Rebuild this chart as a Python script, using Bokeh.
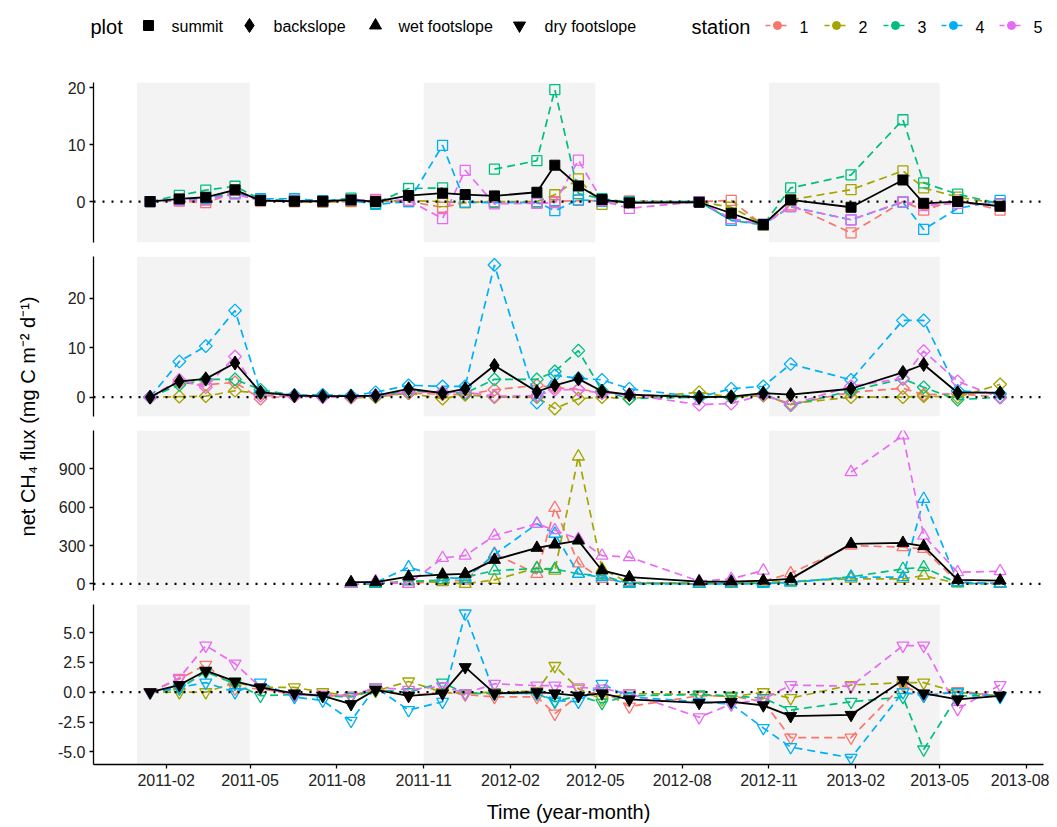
import numpy as np
import pandas as pd
from bokeh.plotting import figure
from bokeh.layouts import column, row
from bokeh.models import (Range1d, BoxAnnotation, Span, FixedTicker, DatetimeTickFormatter,
                          NumeralTickFormatter, Label, ColumnDataSource)
from bokeh.embed import file_html
from bokeh.resources import INLINE
from bokeh.core.properties import value

nan = float("nan")
FONT = "Liberation Sans"

# ---------------- data ----------------
dates = ["2011-01-15", "2011-02-15", "2011-03-15", "2011-04-15", "2011-05-12", "2011-06-17",
         "2011-07-17", "2011-08-16", "2011-09-11", "2011-10-16", "2011-11-21", "2011-12-15",
         "2012-01-15", "2012-02-29", "2012-03-19", "2012-04-13", "2012-05-08", "2012-06-06",
         "2012-08-19", "2012-09-22", "2012-10-26", "2012-11-24", "2013-01-27", "2013-03-23",
         "2013-04-14", "2013-05-20", "2013-07-04"]

stations = ["1", "2", "3", "4", "5"]
station_colors = ["#F8766D", "#A3A500", "#00BF7D", "#00B0F6", "#E76BF3"]
plots = ["summit", "backslope", "wet footslope", "dry footslope"]

winter_start = ["2011-01-01", "2011-11-01", "2012-11-01"]
winter_end = ["2011-05-01", "2012-05-01", "2013-05-01"]

x_tick_labels = ["2011-02", "2011-05", "2011-08", "2011-11", "2012-02", "2012-05",
                 "2012-08", "2012-11", "2013-02", "2013-05", "2013-08"]

# summit
summit_mean = [0, 0.47, 0.76, 2.06, 0.18, 0.06, 0.06, 0.29, 0, 1.06, 1.47, 1.23, 1.0, 1.64, 6.4, 2.75,
               0.35, -0.23, -0.12, -2.05, -4.05, 0.29, -1.0, 3.8, -0.3, 0, -0.82]
summit_s1 = [0, 0.1, -0.2, 1.5, 0.1, 0, 0, 0, 0.1, 0, -1.0, -0.2, 0, -0.3, 0, 0.2,
             0.1, 0.1, 0, 0.2, -4.2, -0.6, -5.5, 0, -1.5, 0.3, -1.5]
summit_s2 = [0, 0.2, 0.3, 2.0, 0.2, 0, -0.1, 0.1, 0, 0.2, 0, -0.2, 0, 0, 1.2, 4.0,
             -0.5, 0, 0, -1.0, -4.0, 0.3, 2.1, 5.4, 2.4, 0.8, -0.4]
summit_s3 = [0, 1.1, 2.0, 2.7, 0.4, 0.2, 0.1, 0.6, -0.3, 2.3, 2.4, nan, 5.7, 7.2, 19.7, 1.4,
             0.5, -0.1, 0, -3.3, -4.1, 2.4, 4.7, 14.4, 3.3, 1.3, -0.4]
summit_s4 = [0, 0.3, 0.5, 1.5, 0.5, 0.5, 0.1, 0.2, -0.5, 0, 9.9, -0.1, -0.2, -0.1, -1.6, 0.3,
             0.1, -0.1, 0, -3.3, -4.0, -0.9, -3.2, -0.1, -4.9, -1.2, 0.2]
summit_s5 = [0, 0.2, 0.3, 1.3, 0.2, 0.1, 0, 0.2, 0.4, 0.2, -3.0, 5.5, -0.4, -0.3, -0.2, 7.3,
             0.2, -1.2, 0, -3.0, -4.0, -0.9, -3.2, 0, -0.7, -0.3, -0.5]

# backslope
backslope_mean = [0, 3.2, 3.7, 6.9, 1.0, 0.3, 0.2, 0.2, 0.3, 1.7, 0.8, 1.7, 6.4, 1.1, 2.4, 3.7,
                  1.2, 0.5, 0, 0.1, 0.8, 0.5, 1.7, 5.0, 6.6, 0.9, 0.9]
backslope_s1 = [0, 3.0, 2.5, 3.0, -0.3, 0.3, 0.2, 0.2, 0.2, 0.8, 0.6, 0.5, 1.5, 2.4, 1.9, 1.6,
                1.0, 0.5, 0, 0, 0.5, -1.5, 1.0, 1.8, 0.5, 0.7, 0]
backslope_s2 = [0, 0.1, 0.2, 1.3, 0.8, 0.2, 0.2, -0.1, 0, 0.8, -0.3, 0.5, 0, 0, -2.3, -0.3,
                0, -0.3, 1.0, 0, 0.3, -1.3, 0, 0, 0.2, 0, 2.6]
backslope_s3 = [0, 2.5, 3.6, 3.6, 1.5, 0.4, 0.3, 0.2, 0.2, 1.2, 1.0, 0.8, 3.6, 3.6, 5.2, 9.4,
                1.3, -0.3, 0, 0, 0.7, -1.6, 1.3, 3.7, 2.0, -0.5, 0]
backslope_s4 = [0, 7.2, 10.3, 17.5, 1.0, 0.4, 0.5, 0.3, 1.0, 2.4, 2.2, 2.2, 26.7, -1.1, 4.4, 3.8,
                3.5, 1.7, 0, 1.7, 2.2, 6.7, 3.5, 15.5, 15.5, 1.3, 0.7]
backslope_s5 = [0, 3.5, 2.0, 8.2, 0.3, 0.2, 0, 0, 0.3, 1.0, 1.0, 1.0, 0.2, 0.3, 1.5, 1.5,
                0.8, 0.5, -1.5, -1.3, 0.5, -1.5, 2.2, 3.8, 9.3, 3.2, -0.1]

# wet footslope
wet_mean = [nan] * 7 + [13, 13, 57, 73, 78, 188, 282, 308, 339, 105, 52, 18, 18, 26, 39,
                        313, 321, 295, 31, 26]
wet_s1 = [nan] * 7 + [0, 10, 0, 26, 26, 235, 78, 595, 160, 39, 13, 0, 5, 20, 83,
                      300, 287, 274, 13, 5]
wet_s2 = [nan] * 7 + [0, 0, 21, 13, 0, 31, 125, 104, 997, 117, 5, 10, 5, 10, 20,
                      40, 39, 65, 3, 0]
wet_s3 = [nan] * 7 + [0, 0, 20, 30, 52, 104, 120, 117, 78, 65, 5, 0, 0, 5, 10,
                      55, 117, 130, 5, 0]
wet_s4 = [nan] * 7 + [0, 10, 130, 52, 39, 230, 470, 392, 78, 52, 0, 0, 0, 0, 13,
                      52, 52, 665, 13, 0]
wet_s5 = [nan] * 7 + [0, 20, 0, 203, 221, 378, 470, 420, 352, 221, 209, 21, 39, 104, nan,
                      875, 1162, 378, 91, 99]

# dry footslope
dry_mean = [0, 0.6, 1.8, 0.9, 0.4, -0.1, -0.3, -1.0, 0.2, -0.3, -0.1, 2.1, -0.1, 0, -0.1, -0.3,
            -0.1, -0.6, -0.9, -0.8, -1.1, -2.0, -1.9, 1.0, -0.1, -0.6, -0.3]
dry_s1 = [0, 1.1, 2.3, 0.3, 0.3, -0.2, -0.3, -0.3, 0.3, -0.3, 0, -0.2, -0.4, -0.4, -1.8, -0.3,
          0.1, -1.2, -0.3, -0.3, -0.8, -3.8, -3.8, 0.6, -0.3, 0.1, -0.3]
dry_s2 = [0, 0, 0, 0.8, 0.4, 0.4, 0, -0.3, 0.1, 0.9, 0, -0.1, 0, 0.1, 2.2, 0.3,
          -0.6, -0.1, -0.2, -0.4, 0, -0.5, 0.6, 0.8, 0.8, 0, -0.3]
dry_s3 = [0, 0.3, 1.7, 0.7, -0.3, -0.2, -0.3, -0.4, 0.2, 0, 0.8, -0.1, -0.1, -0.1, -0.8, -0.3,
          -0.9, -0.3, -0.2, -0.3, -0.5, -1.5, -0.8, -0.4, -4.8, -0.3, -0.3]
dry_s4 = [0, 0.4, 0.8, 0, 0.8, -0.4, -0.7, -2.4, 0.4, -1.5, -0.8, 6.6, -0.1, -0.1, -0.7, -0.8,
          0.7, -0.4, -0.8, -1.0, -3.0, -4.6, -5.5, 0, -0.3, 0, -0.4]
dry_s5 = [0, 1.2, 3.9, 2.4, 0.4, -0.2, -0.2, -0.3, 0.4, 0.2, 0.5, -0.1, 0.7, 0.55, 0.55, 0.4,
          0.3, -0.1, -2.1, -1.0, -0.6, 0.6, 0.5, 3.9, 3.9, -1.4, 0.6]

panel_data = [
    (summit_mean, [summit_s1, summit_s2, summit_s3, summit_s4, summit_s5]),
    (backslope_mean, [backslope_s1, backslope_s2, backslope_s3, backslope_s4, backslope_s5]),
    (wet_mean, [wet_s1, wet_s2, wet_s3, wet_s4, wet_s5]),
    (dry_mean, [dry_s1, dry_s2, dry_s3, dry_s4, dry_s5]),
]
y_ticks = [[0, 10, 20], [0, 10, 20], [0, 300, 600, 900], [-5, -2.5, 0, 2.5, 5]]
y_lims = [(-7.2, 20.95), (-3.9, 28.4), (-52, 1201), (-6.06, 7.35)]

# ---------------- styles ----------------
open_marker = [("square", 0.0, 10), ("square", np.pi / 4, 9), ("triangle", 0.0, 12),
               ("inverted_triangle", 0.0, 12)]
mean_marker = [("square", 0.0, 10), ("diamond", 0.0, 14), ("triangle", 0.0, 12),
               ("inverted_triangle", 0.0, 12)]


def ms(s):
    return pd.Timestamp(s).value / 1e6


x_dt = pd.to_datetime(dates)
xr = Range1d(start=ms("2010-11-16"), end=ms("2013-08-19"))

LEG_H = 66
YL_W = 48
borders = [(16, 7), (7, 7), (7, 7), (7, 62)]
FRAME_H = 160
PANEL_W = 1001
TICK_FS = "16px"

panels = []
for i, (mean_vals, st_vals) in enumerate(panel_data):
    bt, bb = borders[i]
    last = (i == 3)
    p = figure(width=PANEL_W, height=bt + FRAME_H + bb, x_axis_type="datetime",
               x_range=xr, y_range=Range1d(*y_lims[i]),
               output_backend="svg", toolbar_location=None,
               x_axis_location="below" if last else None,
               min_border_left=45, min_border_right=6, min_border_top=bt, min_border_bottom=bb)
    p.outline_line_color = None
    p.grid.visible = False
    p.background_fill_color = "white"

    for s, e in zip(winter_start, winter_end):
        p.add_layout(BoxAnnotation(left=ms(s), right=ms(e), fill_color="#F3F3F3", fill_alpha=1.0,
                                   line_color=None, level="underlay"))
    p.add_layout(Span(location=0, dimension="width", line_color="black", line_width=2.2,
                      line_dash="2 7"))

    data = {"date": x_dt, "mean": mean_vals}
    for k, sv in enumerate(st_vals):
        data["s%d" % (k + 1)] = sv
    src = ColumnDataSource(data)

    mk, ang, sz = open_marker[i]
    for k in range(5):
        col = station_colors[k]
        p.line(x="date", y="s%d" % (k + 1), source=src, line_color=col, line_width=1.7,
               line_dash="8 5")
        p.scatter(x="date", y="s%d" % (k + 1), source=src, marker=mk, angle=ang, size=sz,
                  line_color=col, line_width=1.3, fill_color=None)
    mk2, ang2, sz2 = mean_marker[i]
    p.line(x="date", y="mean", source=src, line_color="black", line_width=1.8)
    p.scatter(x="date", y="mean", source=src, marker=mk2, angle=ang2, size=sz2,
              line_color="black", fill_color="black")

    ya = p.yaxis[0]
    ya.ticker = FixedTicker(ticks=y_ticks[i])
    if i == 3:
        ya.formatter = NumeralTickFormatter(format="0.0")
    ya.axis_line_width = 1.3
    ya.axis_line_color = "black"
    ya.major_tick_line_width = 1.3
    ya.major_tick_out = 4
    ya.major_tick_in = 0
    ya.minor_tick_line_color = None
    ya.major_label_text_font = FONT
    ya.major_label_text_font_size = TICK_FS
    ya.major_label_text_color = "#222222"
    ya.major_label_standoff = 4

    if last:
        xa = p.xaxis[0]
        xa.ticker = FixedTicker(ticks=[ms(t + "-01") for t in x_tick_labels])
        fmt = "%Y-%m"
        xa.formatter = DatetimeTickFormatter(months=fmt, days=fmt, years=fmt, hours=fmt,
                                             minutes=fmt, seconds=fmt, milliseconds=fmt,
                                             minsec=fmt, hourmin=fmt)
        xa.axis_line_width = 1.3
        xa.axis_line_color = "black"
        xa.major_tick_line_width = 1.3
        xa.major_tick_out = 4
        xa.major_tick_in = 0
        xa.minor_tick_line_color = None
        xa.major_label_text_font = FONT
        xa.major_label_text_font_size = TICK_FS
        xa.major_label_text_color = "#222222"
        xa.major_label_standoff = 5
        xa.axis_label = "Time (year-month)"
        xa.axis_label_text_font = FONT
        xa.axis_label_text_font_size = "20px"
        xa.axis_label_text_font_style = "normal"
        xa.axis_label_text_color = "black"
        xa.axis_label_standoff = 12
    panels.append(p)

total_panel_h = sum(bt + FRAME_H + bb for bt, bb in borders)

# y-label figure
yl = figure(width=YL_W, height=total_panel_h, x_range=Range1d(0, YL_W),
            y_range=Range1d(LEG_H + total_panel_h, LEG_H), output_backend="svg",
            toolbar_location=None, x_axis_location=None, y_axis_location=None, min_border=0)
yl.outline_line_color = None
yl.grid.visible = False
yl.add_layout(Label(x=27, y=416, text="net CH\u2084 flux (mg C m\u207b\u00b2 d\u207b\u00b9)",
                    angle=np.pi / 2, text_align="center", text_baseline="middle",
                    text_font=FONT, text_font_size="20px", text_color="black"))

# legend figure
LEG_W = YL_W + PANEL_W
leg = figure(width=LEG_W, height=LEG_H, x_range=Range1d(0, LEG_W), y_range=Range1d(LEG_H, 0),
             output_backend="svg", toolbar_location=None, x_axis_location=None,
             y_axis_location=None, min_border=0)
leg.outline_line_color = None
leg.grid.visible = False

leg.text(x=[90], y=[26], text=["plot"], text_font=value(FONT), text_font_size="20px",
         text_baseline="middle", text_color="black")
plot_key_x = [148, 249, 375, 519]
plot_lab_x = [171, 273, 398, 544]
for j in range(4):
    mk2, ang2, sz2 = mean_marker[j]
    leg.scatter(x=[plot_key_x[j]], y=[25], marker=mk2, angle=ang2, size=sz2,
                line_color="black", fill_color="black")
    leg.text(x=[plot_lab_x[j]], y=[26], text=[plots[j]], text_font=value(FONT),
             text_font_size="16px", text_baseline="middle", text_color="black")

leg.text(x=[691], y=[26], text=["station"], text_font=value(FONT), text_font_size="20px",
         text_baseline="middle", text_color="black")
st_key_x = [777, 836, 895, 953, 1011]
for k in range(5):
    cx = st_key_x[k]
    leg.line(x=[cx - 12, cx + 12], y=[25, 25], line_color=station_colors[k], line_width=1.7,
             line_dash="5 3")
    leg.scatter(x=[cx], y=[25], marker="circle", size=8, line_color=station_colors[k],
                fill_color=station_colors[k])
    leg.text(x=[cx + 22], y=[26], text=[stations[k]], text_font=value(FONT),
             text_font_size="16px", text_baseline="middle", text_color="black")

layout = column(leg, row(yl, column(*panels)))

open("out.html", "w").write(file_html(layout, INLINE))
